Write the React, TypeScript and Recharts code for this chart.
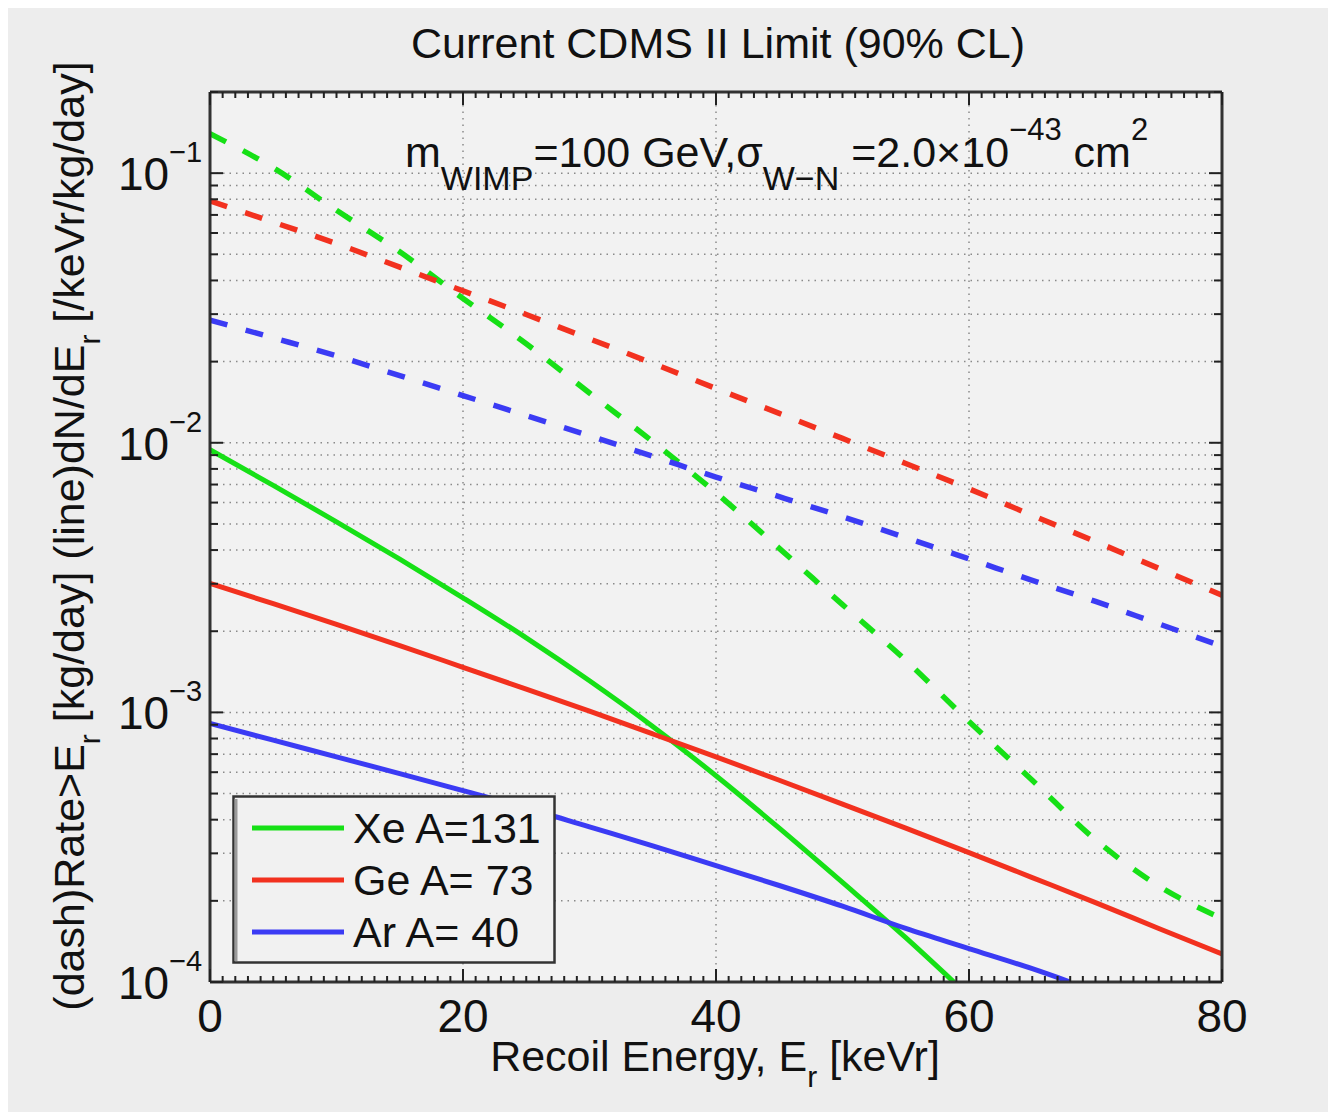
import React from 'react';
import { LineChart, Line, XAxis, YAxis, CartesianGrid, Legend } from 'recharts';

const FONT = '"Liberation Sans", Arial, Helvetica, sans-serif';

// recoil energy grid [keVr]
const energy = [0, 5, 10, 15, 20, 25, 30, 35, 40, 45, 50, 55, 60, 65, 70, 75, 80];

// dashed: rate above Er [kg/day]
const xeRate = [0.14, 0.1047, 0.0728, 0.0511, 0.0343, 0.0233, 0.0153, 0.0101, 0.00652, 0.00406, 0.00251, 0.00156, 0.000925, 0.00056, 0.000337, 0.000227, 0.000172];
const geRate = [0.0789, 0.0658, 0.0548, 0.0448, 0.0366, 0.0299, 0.0243, 0.0197, 0.0159, 0.01285, 0.01038, 0.00838, 0.00675, 0.00538, 0.0043, 0.00342, 0.00272];
const arRate = [0.0285, 0.0245, 0.021, 0.01774, 0.01496, 0.01262, 0.01062, 0.00891, 0.00746, 0.00631, 0.00532, 0.00445, 0.00371, 0.00309, 0.00258, 0.00213, 0.00176];

// solid: dN/dEr [/keVr/kg/day]
const xeEnergy = [0, 5, 10, 15, 20, 25, 30, 35, 40, 45, 50, 55, 58.8];
const xeSpec = [0.00942, 0.00695, 0.00509, 0.0037, 0.00266, 0.00189, 0.00131, 0.000887, 0.000582, 0.000372, 0.000234, 0.000146, 0.0001];
const geSpec = [0.00301, 0.00253, 0.00212, 0.00177, 0.00147, 0.00122, 0.00101, 0.000832, 0.000684, 0.00056, 0.000457, 0.000372, 0.000302, 0.000244, 0.000197, 0.000158, 0.000127];
const arEnergy = [0, 5, 10, 15, 20, 25, 30, 35, 40, 45, 50, 55, 60, 65, 68];
const arSpec = [0.00091, 0.000789, 0.000684, 0.000593, 0.000513, 0.000442, 0.000376, 0.00032, 0.00027, 0.000228, 0.000191, 0.000158, 0.000133, 0.000112, 0.0001];

const legendNames = ['Xe A=131', 'Ge A= 73', 'Ar A= 40'];
const GREEN = '#16e016';
const RED = '#f2311f';
const BLUE = '#3b3bf4';

const xTicks = Array.from({ length: 81 }, (_, i) => i);
const decades = [1e-4, 1e-3, 1e-2, 1e-1];
const yTicks = decades
  .flatMap((d) => [1, 2, 3, 4, 5, 6, 7, 8, 9].map((m) => m * d))
  .filter((v) => v <= 0.2 + 1e-9);

const pts = (xs: number[], ys: number[]) => xs.map((x, i) => ({ e: x, v: ys[i] }));

const isDecade = (v: number) => {
  const p = Math.log10(v);
  return Math.abs(p - Math.round(p)) < 1e-6;
};

const LeftTick = (props: any) => {
  const { x, y, payload } = props;
  const v = payload.value;
  const major = isDecade(v);
  const p = Math.round(Math.log10(v));
  return (
    <g>
      <line x1={x} y1={y} x2={x + (major ? 13 : 8)} y2={y} stroke="#222" strokeWidth={2} />
      {major && (
        <text x={x - 92} y={y + 17} fill="#111" fontFamily={FONT}>
          <tspan fontSize={46}>10</tspan>
          <tspan fontSize={29} dy={-28}>{'\u2212' + Math.abs(p)}</tspan>
        </text>
      )}
    </g>
  );
};

const RightTick = (props: any) => {
  const { x, y, payload } = props;
  const major = isDecade(payload.value);
  return <line x1={x} y1={y} x2={x - (major ? 13 : 8)} y2={y} stroke="#222" strokeWidth={2} />;
};

const BottomTick = (props: any) => {
  const { x, y, payload } = props;
  const major = payload.value % 20 === 0;
  return (
    <g>
      <line x1={x} y1={y} x2={x} y2={y - (major ? 13 : 6)} stroke="#222" strokeWidth={2} />
      {major && (
        <text x={x} y={y + 50} textAnchor="middle" fontSize={46} fill="#111" fontFamily={FONT}>
          {payload.value}
        </text>
      )}
    </g>
  );
};

const TopTick = (props: any) => {
  const { x, y, payload } = props;
  const major = payload.value % 20 === 0;
  return <line x1={x} y1={y} x2={x} y2={y + (major ? 13 : 6)} stroke="#222" strokeWidth={2} />;
};

const LegendBox = ({ payload }: any) => {
  const items = (payload || [])
    .filter((entry: any) => legendNames.includes(entry.value))
    .sort((a: any, b: any) => legendNames.indexOf(a.value) - legendNames.indexOf(b.value));
  return (
    <svg width={324} height={170} style={{ display: 'block' }}>
      <rect x={1.5} y={1.5} width={321} height={166} fill="#f1f1f1" stroke="#333" strokeWidth={2.5} />
      <line x1={4} y1={4} x2={4} y2={166} stroke="#9a9a9a" strokeWidth={3} />
      {items.map((entry: any, i: number) => (
        <g key={i}>
          <line x1={20} x2={112} y1={33 + i * 52} y2={33 + i * 52} stroke={entry.color} strokeWidth={5} />
          <text x={121} y={48 + i * 52} fontSize={43} fill="#111" fontFamily={FONT}>
            {entry.value}
          </text>
        </g>
      ))}
    </svg>
  );
};

export default function App() {
  return (
    <div
      style={{
        position: 'relative',
        width: 1336,
        height: 1120,
        margin: -8,
        background: '#ededed',
        overflow: 'hidden',
        fontFamily: FONT,
      }}
    >
      <div
        style={{
          position: 'absolute',
          left: 0,
          top: 0,
          width: 1336,
          height: 8,
          background: 'linear-gradient(to right, #2c2c2c 0%, #6b6b6b 45%, #c4c4c4 88%, #dedede 100%)',
        }}
      />
      <div style={{ position: 'absolute', left: 0, top: 0, width: 8, height: 1120, background: '#303030' }} />

      <LineChart width={1336} height={1120} margin={{ top: 82, right: 104, bottom: 58, left: 90 }}>
        <CartesianGrid
          yAxisId="left"
          fill="#f2f2f2"
          stroke="#8a8a8a"
          strokeWidth={1.5}
          strokeDasharray="1.5 5"
          verticalValues={[20, 40, 60]}
        />
        <XAxis
          type="number"
          dataKey="e"
          domain={[0, 80]}
          ticks={xTicks}
          interval={0}
          height={80}
          tickSize={0}
          tickMargin={0}
          tick={<BottomTick />}
          axisLine={{ stroke: '#333', strokeWidth: 3 }}
          tickLine={false}
          allowDataOverflow
        />
        <XAxis
          xAxisId="top"
          orientation="top"
          type="number"
          dataKey="e"
          domain={[0, 80]}
          ticks={xTicks}
          interval={0}
          height={10}
          tickSize={0}
          tickMargin={0}
          tick={<TopTick />}
          axisLine={{ stroke: '#333', strokeWidth: 3 }}
          tickLine={false}
          allowDataOverflow
        />
        <YAxis
          yAxisId="left"
          scale="log"
          domain={[1e-4, 0.2]}
          ticks={yTicks}
          interval={0}
          width={120}
          tickSize={0}
          tickMargin={0}
          tick={<LeftTick />}
          axisLine={{ stroke: '#333', strokeWidth: 3 }}
          tickLine={false}
          allowDataOverflow
        />
        <YAxis
          yAxisId="right"
          orientation="right"
          scale="log"
          domain={[1e-4, 0.2]}
          ticks={yTicks}
          interval={0}
          width={10}
          tickSize={0}
          tickMargin={0}
          tick={<RightTick />}
          axisLine={{ stroke: '#333', strokeWidth: 3 }}
          tickLine={false}
          allowDataOverflow
        />

        <Line yAxisId="left" data={pts(energy, xeRate)} dataKey="v" name="Xe rate" type="monotone" stroke={GREEN} strokeWidth={5.5} strokeDasharray="18 19" dot={false} activeDot={false} legendType="none" isAnimationActive={false} />
        <Line yAxisId="left" data={pts(energy, geRate)} dataKey="v" name="Ge rate" type="monotone" stroke={RED} strokeWidth={5.5} strokeDasharray="18 19" dot={false} activeDot={false} legendType="none" isAnimationActive={false} />
        <Line yAxisId="left" data={pts(energy, arRate)} dataKey="v" name="Ar rate" type="monotone" stroke={BLUE} strokeWidth={5.5} strokeDasharray="18 19" dot={false} activeDot={false} legendType="none" isAnimationActive={false} />

        <Line yAxisId="left" data={pts(xeEnergy, xeSpec)} dataKey="v" name={legendNames[0]} type="monotone" stroke={GREEN} strokeWidth={5} dot={false} activeDot={false} isAnimationActive={false} />
        <Line yAxisId="left" data={pts(energy, geSpec)} dataKey="v" name={legendNames[1]} type="monotone" stroke={RED} strokeWidth={5} dot={false} activeDot={false} isAnimationActive={false} />
        <Line yAxisId="left" data={pts(arEnergy, arSpec)} dataKey="v" name={legendNames[2]} type="monotone" stroke={BLUE} strokeWidth={5} dot={false} activeDot={false} isAnimationActive={false} />

        <Legend
          layout="vertical"
          align="center"
          verticalAlign="middle"
          content={<LegendBox />}
          wrapperStyle={{ position: 'absolute', left: 232, top: 795, width: 324, height: 170 }}
        />
      </LineChart>

      <svg
        width={1336}
        height={1120}
        style={{ position: 'absolute', left: 0, top: 0, pointerEvents: 'none' }}
        fontFamily={FONT}
        fill="#111"
      >
        <text x={718} y={58} textAnchor="middle" fontSize={43}>
          Current CDMS II Limit (90% CL)
        </text>
        <text x={405} y={167} fontSize={43}>
          m
          <tspan fontSize={34} dy={23}>WIMP</tspan>
          <tspan dy={-23}>=100 GeV,</tspan>
          <tspan>σ</tspan>
          <tspan fontSize={34} dy={23}>W−N</tspan>
          <tspan dy={-23}> =2.0×10</tspan>
          <tspan fontSize={31} dy={-27}>−43</tspan>
          <tspan dy={27}> cm</tspan>
          <tspan fontSize={31} dy={-27}>2</tspan>
        </text>
        <text x={715} y={1071} textAnchor="middle" fontSize={43}>
          Recoil Energy, E
          <tspan fontSize={30} dy={16}>r</tspan>
          <tspan dy={-16}> [keVr]</tspan>
        </text>
        <text transform="translate(84,536) rotate(-90)" textAnchor="middle" fontSize={43}>
          (dash)Rate&gt;E
          <tspan fontSize={30} dy={16}>r</tspan>
          <tspan dy={-16}> [kg/day] (line)dN/dE</tspan>
          <tspan fontSize={30} dy={16}>r</tspan>
          <tspan dy={-16}> [/keVr/kg/day]</tspan>
        </text>
      </svg>
    </div>
  );
}
